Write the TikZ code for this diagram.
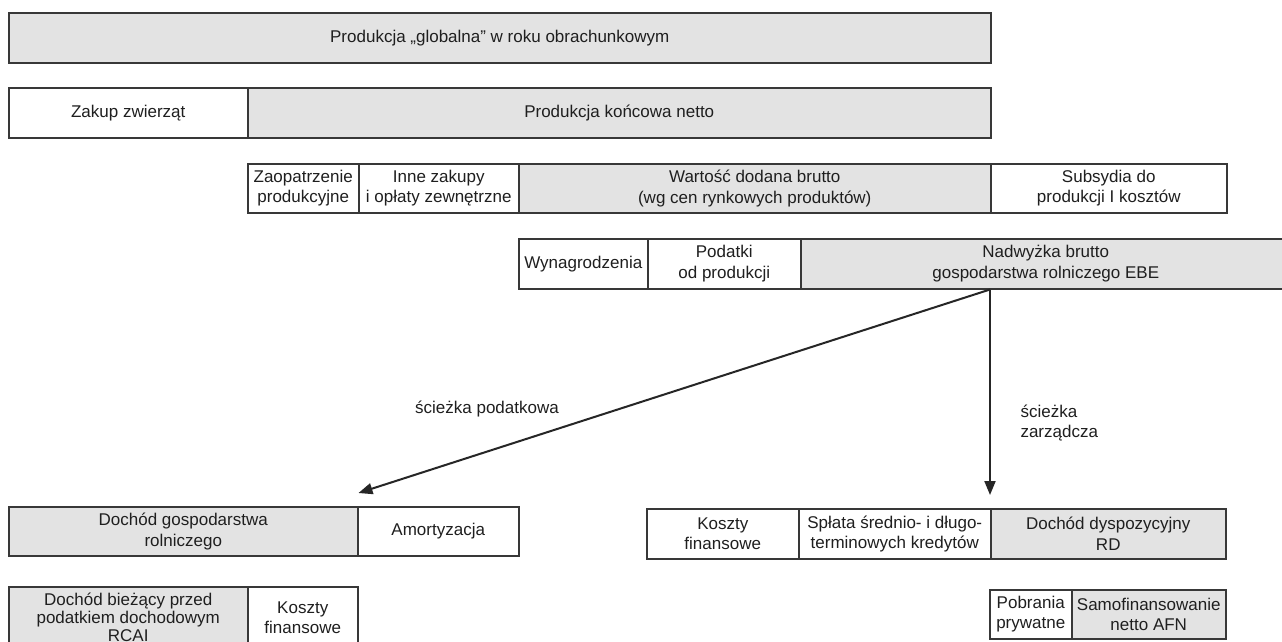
\documentclass[tikz,border=0pt]{standalone}
\usepackage{fontspec}
\setmainfont{Liberation Sans}
\usetikzlibrary{arrows.meta}

\begin{document}
\begin{tikzpicture}[x=1pt, y=-1pt,
  every node/.style={font=\fontsize{17}{20.5}\selectfont, text=black!88},
  cell/.style={draw=black!78, line width=1.5pt, anchor=north west, inner sep=0pt, align=center},
  shaded/.style={cell, fill=black!11},
  flow/.style={draw=black!85, line width=2pt, -{Triangle[length=14pt, width=11pt]}}]
  \fill[white] (0,0) rectangle (1282,641);
  \useasboundingbox (0,0) rectangle (1282,641);
  \clip (0,0) rectangle (1282,641);
  % row 1
  \node[shaded, minimum width=982pt, minimum height=50pt] (glob) at (8,12) {Produkcja „globalna” w roku obrachunkowym};
  % row 2
  \node[cell, minimum width=239pt, minimum height=50pt] (zakup) at (8,87) {Zakup zwierząt};
  \node[shaded, minimum width=743pt, minimum height=50pt] (pkn) at (247,87) {Produkcja końcowa netto};
  % row 3
  \node[cell, minimum width=111pt, minimum height=49pt] (zaop) at (247,163) {Zaopatrzenie\\produkcyjne};
  \node[cell, minimum width=160pt, minimum height=49pt] (inne) at (358,163) {Inne zakupy\\i opłaty zewnętrzne};
  \node[shaded, minimum width=472pt, minimum height=49pt] (wdb) at (518,163) {Wartość dodana brutto\\(wg cen rynkowych produktów)};
  \node[cell, minimum width=236pt, minimum height=49pt] (subs) at (990,163) {Subsydia do\\produkcji I kosztów};
  % row 4
  \node[cell, minimum width=129pt, minimum height=50pt] (wyn) at (518,238) {Wynagrodzenia};
  \node[cell, minimum width=153pt, minimum height=50pt] (pod) at (647,238) {Podatki\\od produkcji};
  \node[shaded, minimum width=490pt, minimum height=50pt] (ebe) at (800,238) {Nadwyżka brutto\\gospodarstwa rolniczego EBE};
  % row 5 left
  \node[shaded, minimum width=349pt, minimum height=49pt] (dgr) at (8,506) {Dochód gospodarstwa\\rolniczego};
  \node[cell, minimum width=161pt, minimum height=49pt] (amort) at (357,506) {Amortyzacja};
  % row 5 right
  \node[cell, minimum width=152pt, minimum height=50pt] (kf) at (646,508) {Koszty\\finansowe};
  \node[cell, minimum width=192pt, minimum height=50pt] (splata) at (798,508) {Spłata średnio- i długo-\\terminowych kredytów};
  \node[shaded, minimum width=235pt, minimum height=50pt] (rd) at (990,508) {Dochód dyspozycyjny\\RD};
  % row 6
  \node[shaded, minimum width=239pt, minimum height=62pt, font=\fontsize{17}{18}\selectfont] (rcai) at (8,586) {Dochód bieżący przed\\podatkiem dochodowym\\RCAI};
  \node[cell, minimum width=110pt, minimum height=62pt] (kfin) at (247,586) {Koszty\\finansowe};
  \node[cell, minimum width=82pt, minimum height=49pt] (pobr) at (989,589) {Pobrania\\prywatne};
  \node[shaded, minimum width=154pt, minimum height=49pt] (afn) at (1071,589) {Samofinansowanie\\netto AFN};
  % two paths
  \coordinate (split) at ([xshift=190pt]ebe.south west);
  \draw[flow] (split) -- ([yshift=13pt]dgr.north east);
  \draw[flow] (split) -- ([yshift=13pt]rd.north west);
  \node (lpod) at (487,409) {ścieżka podatkowa};
  \node[anchor=west, align=left] (lzarz) at (1017,423) {ścieżka\\zarządcza};
\end{tikzpicture}
\end{document}
